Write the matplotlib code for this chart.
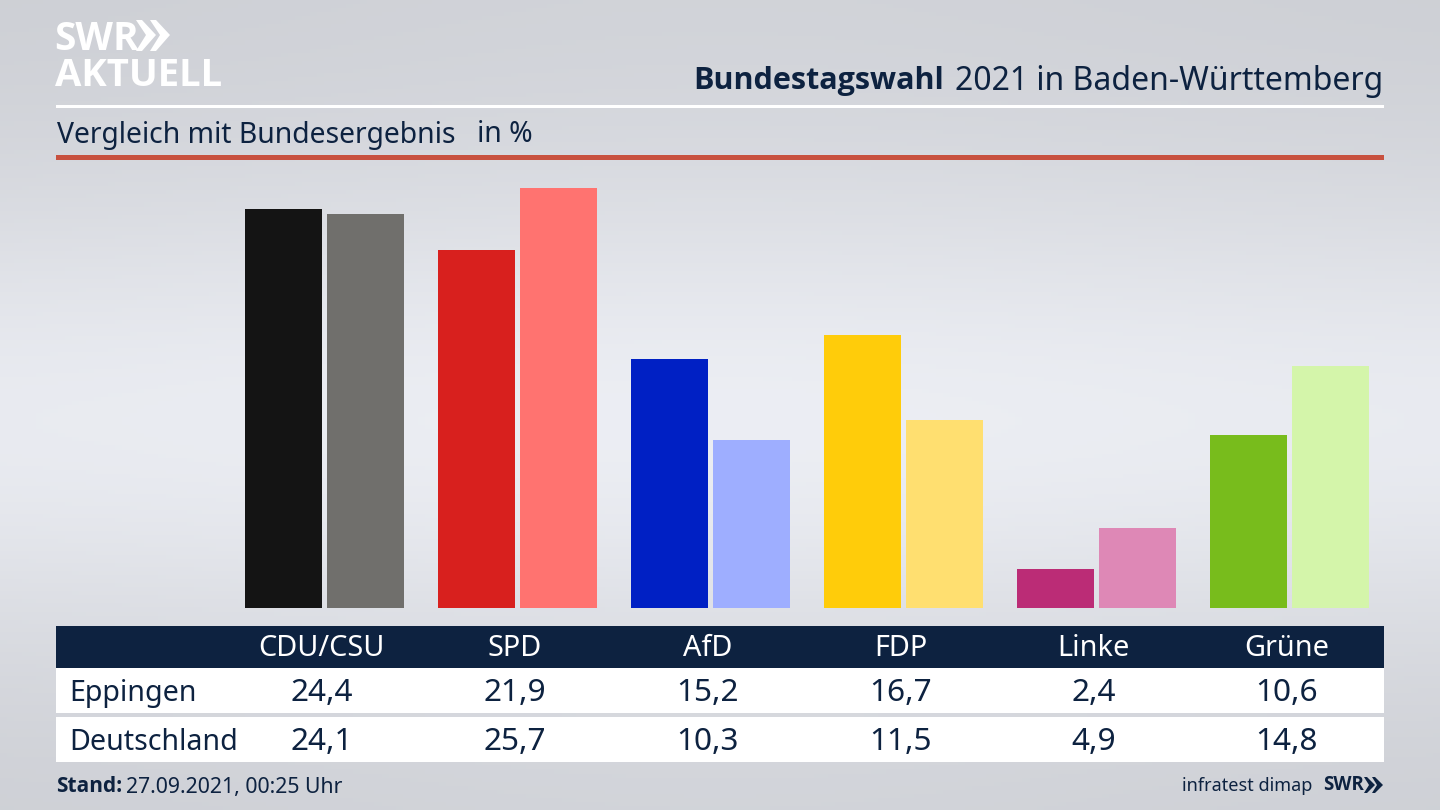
import numpy as np
import matplotlib
matplotlib.use('Agg')
import matplotlib.pyplot as plt
from matplotlib.patches import Rectangle, Polygon

plt.rcParams['font.family'] = ['Noto Sans', 'DejaVu Sans']

parties = ['CDU/CSU', 'SPD', 'AfD', 'FDP', 'Linke', 'Grüne']
eppingen = [24.4, 21.9, 15.2, 16.7, 2.4, 10.6]
deutschland = [24.1, 25.7, 10.3, 11.5, 4.9, 14.8]
colors_eppingen = ['#141414', '#d8201e', '#0020c4', '#ffcc0a', '#bb2c76', '#78bc1c']
colors_deutschland = ['#706f6c', '#ff7370', '#9eaeff', '#ffdf70', '#de88b6', '#d4f5aa']
row_labels = ['Eppingen', 'Deutschland']

navy = '#0d2240'
W, H = 1440, 810

fig = plt.figure(figsize=(14.4, 8.1), dpi=100)

# background + everything that sits in pixel positions
bg = fig.add_axes([0, 0, 1, 1])
bg.set_xlim(0, W)
bg.set_ylim(H, 0)
bg.axis('off')

yy = np.linspace(0, 1, 200)
xx = np.linspace(0, 1, 200)
gx, gy = np.meshgrid(xx, yy)
shade = 0.80 + 0.11 * np.exp(-((gy - 0.52) / 0.3) ** 2) + 0.015 * np.exp(-((gx - 0.5) / 0.4) ** 2)
img = np.dstack([shade, shade + 0.008, shade + 0.03])
bg.imshow(np.clip(img, 0, 1), extent=[0, W, H, 0], aspect='auto', zorder=0)

# logo
bg.text(54, 39, 'SWR', color='white', fontsize=28, fontweight='bold', family='Open Sans',
        va='center', ha='left')
for x0 in (136, 150):
    bg.add_patch(Polygon([[x0, 20], [x0 + 6, 20], [x0 + 20, 35], [x0 + 6, 51], [x0, 51], [x0 + 10, 35]],
                         color='white', lw=0))
bg.text(55, 76, 'AKTUELL', color='white', fontsize=27.5, fontweight='bold', family='Open Sans',
        va='center', ha='left')

# header
bg.text(1383, 81, '2021 in Baden-Württemberg', color=navy, fontsize=23, ha='right', va='center')
bg.text(693, 81, 'Bundestagswahl', color=navy, fontsize=22, fontweight='bold', family='Open Sans',
        ha='left', va='center')
bg.add_patch(Rectangle((56, 105), 1328, 2.5, color='white', lw=0))
bg.text(57, 135, 'Vergleich mit Bundesergebnis', color=navy, fontsize=20.4, ha='left', va='center')
bg.text(477, 135, 'in %', color=navy, fontsize=20.4, ha='left', va='center')
bg.add_patch(Rectangle((56, 155), 1328, 5, color='#c8513f', lw=0))

# table
bg.add_patch(Rectangle((56, 626), 1328, 42, color=navy, lw=0))
bg.add_patch(Rectangle((56, 668), 1328, 45, color='white', lw=0))
bg.add_patch(Rectangle((56, 717), 1328, 45, color='white', lw=0))
bg.text(69, 693, row_labels[0], color=navy, fontsize=20.6, ha='left', va='center')
bg.text(69, 742, row_labels[1], color=navy, fontsize=20.6, ha='left', va='center')
for i, p in enumerate(parties):
    tx = 321.5 + 193 * i
    bg.text(tx, 649, p, color='white', fontsize=20.8, ha='center', va='center')
    bg.text(tx, 693, f'{eppingen[i]:.1f}'.replace('.', ','), color=navy, fontsize=22.7, ha='center', va='center')
    bg.text(tx, 742, f'{deutschland[i]:.1f}'.replace('.', ','), color=navy, fontsize=22.7, ha='center', va='center')

# footer
bg.text(56, 786, 'Stand:', color=navy, fontsize=15, fontweight='bold', family='Open Sans', ha='left', va='center')
bg.text(126, 787, '27.09.2021, 00:25 Uhr', color=navy, fontsize=15.3, ha='left', va='center')
bg.text(1312, 786, 'infratest dimap', color=navy, fontsize=13, ha='right', va='center')
bg.text(1323, 785, 'SWR', color=navy, fontsize=13.5, fontweight='bold', family='Open Sans', ha='left', va='center')
for x0 in (1364, 1372):
    bg.add_patch(Polygon([[x0, 777], [x0 + 3, 777], [x0 + 11, 785], [x0 + 3, 793], [x0, 793], [x0 + 5, 785]],
                         color=navy, lw=0))

# bars
ax = fig.add_axes([0, (H - 608) / H, 1, (608 - 170) / H])
ax.patch.set_alpha(0)
ax.axis('off')
ax.set_xlim(-324.5 / 193, (W - 324.5) / 193)
ax.set_ylim(0, 438 / 16.35)
x = np.arange(len(parties))
ax.bar(x - 41 / 193, eppingen, width=77 / 193, color=colors_eppingen)
ax.bar(x + 41 / 193, deutschland, width=77 / 193, color=colors_deutschland)

fig.savefig('out.png', dpi=100)
